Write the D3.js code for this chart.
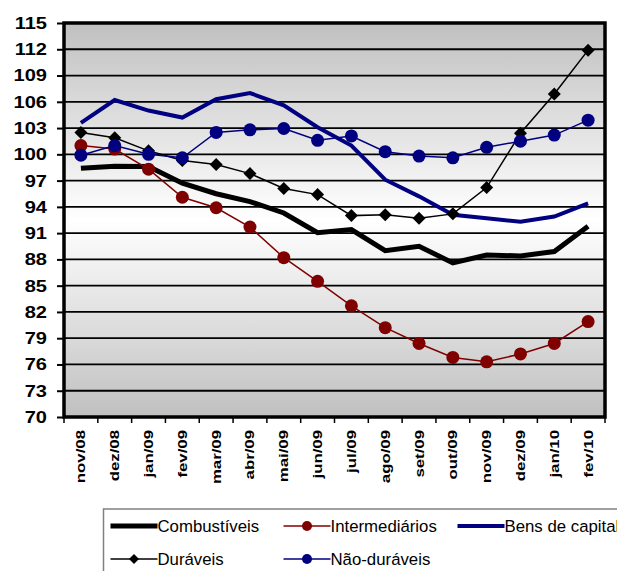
<!DOCTYPE html>
<html>
<head>
<meta charset="utf-8">
<script src="https://cdn.jsdelivr.net/npm/d3@7"></script>
<style>
  body { margin: 0; background: #fff; }
  svg { display: block; font-family: Arial, "Liberation Sans", sans-serif; }
</style>
</head>
<body>
<div id="chart"></div>
<script>
// months on the x axis
var months = ["nov/08","dez/08","jan/09","fev/09","mar/09","abr/09","mai/09","jun/09",
              "jul/09","ago/09","set/09","out/09","nov/09","dez/09","jan/10","fev/10"];
// y ticks
var yTicks = [70,73,76,79,82,85,88,91,94,97,100,103,106,109,112,115];

// series values
var combustiveis   = [98.4,98.65,98.6,96.7,95.5,94.6,93.3,91.05,91.4,89.0,89.5,87.6,88.5,88.4,88.9,91.8];
var intermediarios = [101.0,100.6,98.3,95.1,93.9,91.7,88.2,85.5,82.7,80.2,78.4,76.8,76.3,77.2,78.4,80.9];
var bensCapital    = [103.6,106.2,105.0,104.2,106.3,107.0,105.6,103.1,101.0,97.1,95.2,93.1,92.7,92.3,92.9,94.4];
var duraveis       = [102.5,101.9,100.4,99.3,98.85,97.8,96.1,95.4,93.0,93.1,92.7,93.2,96.2,102.4,106.9,111.9];
var naoDuraveis    = [99.9,101.0,100.0,99.6,102.5,102.8,102.95,101.6,102.1,100.3,99.8,99.6,100.8,101.5,102.2,103.9];

var series = [
  {name: "Combustíveis",   values: combustiveis,   color: "#000000", width: 5,   marker: null},
  {name: "Intermediários", values: intermediarios, color: "#800000", width: 1.5, marker: "circle"},
  {name: "Bens de capital",values: bensCapital,    color: "#000080", width: 4,   marker: null},
  {name: "Duráveis",       values: duraveis,       color: "#000000", width: 1.5, marker: "diamond"},
  {name: "Não-duráveis",   values: naoDuraveis,    color: "#000080", width: 1.5, marker: "circle"}
];

var W = 617, H = 571,
    margin = {top: 23, left: 64},
    width = 541, height = 394;

var svg = d3.select("#chart").append("svg")
    .attr("width", W).attr("height", H);

//Background gradient: gray -> white -> gray
var defs = svg.append("defs");
var grad = defs.append("linearGradient")
    .attr("id", "bg").attr("x1", 0).attr("y1", 0).attr("x2", 0).attr("y2", 1);
grad.append("stop").attr("offset", "0%").attr("stop-color", "#c0c0c0");
grad.append("stop").attr("offset", "50%").attr("stop-color", "#ffffff");
grad.append("stop").attr("offset", "100%").attr("stop-color", "#c0c0c0");

var g = svg.append("g")
    .attr("transform", "translate(" + margin.left + "," + margin.top + ")");

var x = d3.scaleBand().domain(months).range([0, width]);
var y = d3.scaleLinear().domain([70, 115]).range([height, 0]);

g.append("rect")
    .attr("width", width).attr("height", height)
    .attr("fill", "url(#bg)");

//Horizontal grid lines
g.selectAll(".grid")
    .data(yTicks.slice(1, -1))
  .enter().append("line")
    .attr("x1", 0).attr("x2", width)
    .attr("y1", function(d) { return y(d); })
    .attr("y2", function(d) { return y(d); })
    .attr("stroke", "#000").attr("stroke-width", 1.8);

//Y axis - the labels in the picture are a bit wide, so stretch them horizontally
var yStretch = 1.18;
var yAxis = g.append("g")
    .call(d3.axisLeft(y).tickValues(yTicks).tickSize(7).tickPadding(10));
yAxis.select(".domain").remove();
yAxis.selectAll("line").attr("stroke", "#000").attr("stroke-width", 2);
yAxis.selectAll("text")
    .attr("x", -17 / yStretch)
    .attr("transform", "scale(" + yStretch + ",1)")
    .attr("font-size", "17px").attr("font-weight", "bold").attr("fill", "#000")
    .attr("font-family", "Arial, 'Liberation Sans', sans-serif");

//X axis: ticks on category boundaries
var xAxis = g.append("g").attr("transform", "translate(0," + height + ")");
var bounds = months.map(function(m) { return x(m); }).concat([width]);
xAxis.selectAll(".xt")
    .data(bounds)
  .enter().append("line")
    .attr("x1", function(d) { return d; }).attr("x2", function(d) { return d; })
    .attr("y1", 0).attr("y2", 6)
    .attr("stroke", "#000").attr("stroke-width", 1.5);
xAxis.selectAll(".xl")
    .data(months)
  .enter().append("text")
    .attr("transform", function(d) {
      return "translate(" + (x(d) + x.bandwidth() / 2 + 4.5) + ",13) rotate(-90) scale(1.12,0.9)";
    })
    .attr("text-anchor", "end")
    .attr("font-size", "15px").attr("font-weight", "bold")
    .text(function(d) { return d; });

//Plot border
g.append("rect")
    .attr("width", width).attr("height", height)
    .attr("fill", "none").attr("stroke", "#000").attr("stroke-width", 3.5);

var line = d3.line()
    .x(function(d, i) { return x(months[i]) + x.bandwidth() / 2; })
    .y(function(d) { return y(d); });

function drawMarker(sel, type, color, size) {
  if (type === "circle") {
    sel.append("circle").attr("r", size).attr("fill", color);
  } else if (type === "diamond") {
    sel.append("path")
      .attr("d", "M0," + (-size) + "L" + size + ",0L0," + size + "L" + (-size) + ",0Z")
      .attr("fill", color);
  }
}

series.forEach(function(s) {
  g.append("path")
      .datum(s.values)
      .attr("d", line)
      .attr("fill", "none")
      .attr("stroke", s.color)
      .attr("stroke-width", s.width)
      .attr("stroke-linejoin", "miter");
  if (s.marker) {
    g.selectAll(null)
        .data(s.values)
      .enter().append("g")
        .attr("transform", function(d, i) {
          return "translate(" + (x(months[i]) + x.bandwidth() / 2) + "," + y(d) + ")";
        })
        .each(function() { drawMarker(d3.select(this), s.marker, s.color, 6.5); });
  }
});

//Legend
var legend = svg.append("g").attr("transform", "translate(103.5,509)");
legend.append("rect")
    .attr("width", 560).attr("height", 80)
    .attr("fill", "#fff").attr("stroke", "#808080").attr("stroke-width", 1.5);

var legendPos = [[7, 17], [180, 17], [354, 17], [7, 50], [180, 50]];
series.forEach(function(s, i) {
  var item = legend.append("g")
      .attr("transform", "translate(" + legendPos[i][0] + "," + legendPos[i][1] + ")");
  item.append("line")
      .attr("x1", 0).attr("x2", 47)
      .attr("stroke", s.color).attr("stroke-width", s.width);
  if (s.marker) {
    var m = item.append("g").attr("transform", "translate(23.5,0)");
    drawMarker(m, s.marker, s.color, 5);
  }
  item.append("text")
      .attr("x", 47).attr("dy", "0.35em")
      .attr("font-size", "16.8px")
      .text(s.name);
});
</script>
</body>
</html>
